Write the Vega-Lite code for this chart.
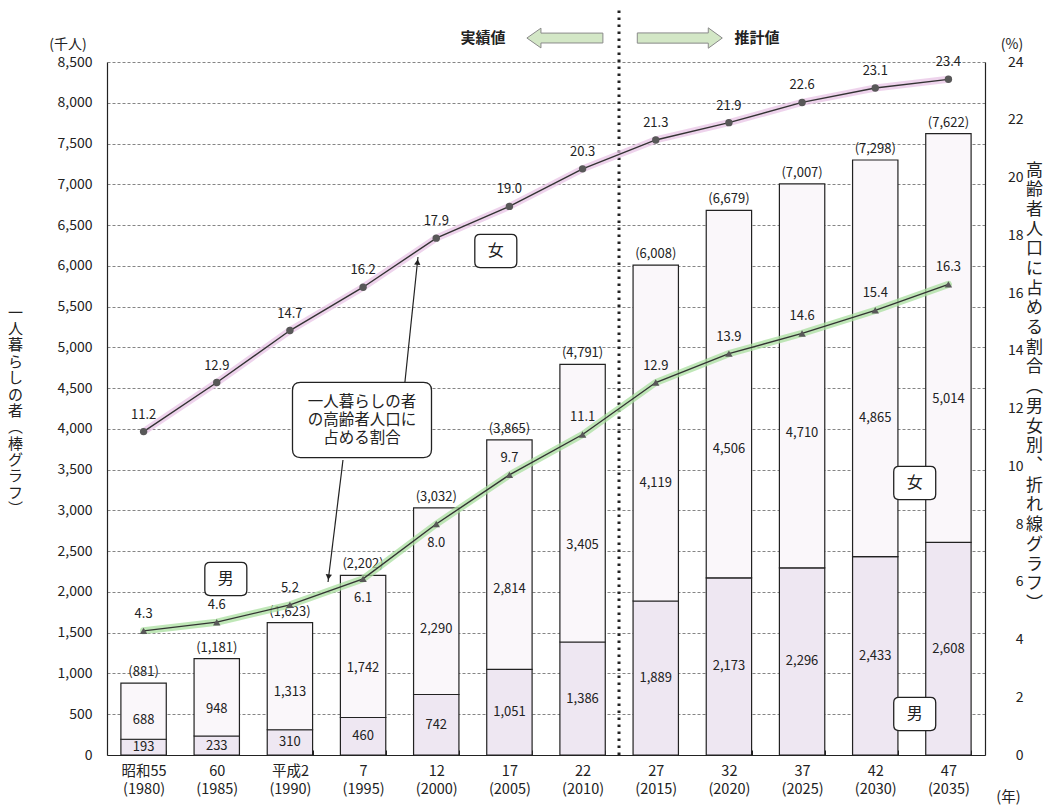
{
  "$schema": "https://vega.github.io/schema/vega-lite/v6.json",
  "width": 878,
  "height": 693,
  "autosize": {"type": "none"},
  "padding": {"left": 107, "top": 62, "right": 74, "bottom": 55},
  "background": "white",
  "config": {
    "font": "Noto Sans CJK JP",
    "view": {"stroke": null},
    "axis": {"labelFontWeight": "normal", "titleFontWeight": "normal", "labelColor": "#222", "titleColor": "#222", "domainColor": "#222", "domainWidth": 1.2}
  },
  "datasets": {
    "bars": [
      {"year": "昭和55|(1980)", "sex": "男", "value": 193}, {"year": "昭和55|(1980)", "sex": "女", "value": 688},
      {"year": "60|(1985)", "sex": "男", "value": 233}, {"year": "60|(1985)", "sex": "女", "value": 948},
      {"year": "平成2|(1990)", "sex": "男", "value": 310}, {"year": "平成2|(1990)", "sex": "女", "value": 1313},
      {"year": "7|(1995)", "sex": "男", "value": 460}, {"year": "7|(1995)", "sex": "女", "value": 1742},
      {"year": "12|(2000)", "sex": "男", "value": 742}, {"year": "12|(2000)", "sex": "女", "value": 2290},
      {"year": "17|(2005)", "sex": "男", "value": 1051}, {"year": "17|(2005)", "sex": "女", "value": 2814},
      {"year": "22|(2010)", "sex": "男", "value": 1386}, {"year": "22|(2010)", "sex": "女", "value": 3405},
      {"year": "27|(2015)", "sex": "男", "value": 1889}, {"year": "27|(2015)", "sex": "女", "value": 4119},
      {"year": "32|(2020)", "sex": "男", "value": 2173}, {"year": "32|(2020)", "sex": "女", "value": 4506},
      {"year": "37|(2025)", "sex": "男", "value": 2296}, {"year": "37|(2025)", "sex": "女", "value": 4710},
      {"year": "42|(2030)", "sex": "男", "value": 2433}, {"year": "42|(2030)", "sex": "女", "value": 4865},
      {"year": "47|(2035)", "sex": "男", "value": 2608}, {"year": "47|(2035)", "sex": "女", "value": 5014}
    ],
    "totals": [
      {"year": "昭和55|(1980)", "total": 881, "label": "(881)"},
      {"year": "60|(1985)", "total": 1181, "label": "(1,181)"},
      {"year": "平成2|(1990)", "total": 1623, "label": "(1,623)"},
      {"year": "7|(1995)", "total": 2202, "label": "(2,202)"},
      {"year": "12|(2000)", "total": 3032, "label": "(3,032)"},
      {"year": "17|(2005)", "total": 3865, "label": "(3,865)"},
      {"year": "22|(2010)", "total": 4791, "label": "(4,791)"},
      {"year": "27|(2015)", "total": 6008, "label": "(6,008)"},
      {"year": "32|(2020)", "total": 6679, "label": "(6,679)"},
      {"year": "37|(2025)", "total": 7007, "label": "(7,007)"},
      {"year": "42|(2030)", "total": 7298, "label": "(7,298)"},
      {"year": "47|(2035)", "total": 7622, "label": "(7,622)"}
    ],
    "rates": [
      {"year": "昭和55|(1980)", "sex": "女", "rate": 11.2}, {"year": "昭和55|(1980)", "sex": "男", "rate": 4.3},
      {"year": "60|(1985)", "sex": "女", "rate": 12.9}, {"year": "60|(1985)", "sex": "男", "rate": 4.6},
      {"year": "平成2|(1990)", "sex": "女", "rate": 14.7}, {"year": "平成2|(1990)", "sex": "男", "rate": 5.2},
      {"year": "7|(1995)", "sex": "女", "rate": 16.2}, {"year": "7|(1995)", "sex": "男", "rate": 6.1},
      {"year": "12|(2000)", "sex": "女", "rate": 17.9}, {"year": "12|(2000)", "sex": "男", "rate": 8.0},
      {"year": "17|(2005)", "sex": "女", "rate": 19.0}, {"year": "17|(2005)", "sex": "男", "rate": 9.7},
      {"year": "22|(2010)", "sex": "女", "rate": 20.3}, {"year": "22|(2010)", "sex": "男", "rate": 11.1},
      {"year": "27|(2015)", "sex": "女", "rate": 21.3}, {"year": "27|(2015)", "sex": "男", "rate": 12.9},
      {"year": "32|(2020)", "sex": "女", "rate": 21.9}, {"year": "32|(2020)", "sex": "男", "rate": 13.9},
      {"year": "37|(2025)", "sex": "女", "rate": 22.6}, {"year": "37|(2025)", "sex": "男", "rate": 14.6},
      {"year": "42|(2030)", "sex": "女", "rate": 23.1}, {"year": "42|(2030)", "sex": "男", "rate": 15.4},
      {"year": "47|(2035)", "sex": "女", "rate": 23.4}, {"year": "47|(2035)", "sex": "男", "rate": 16.3}
    ]
  },
  "layer": [
    {
      "layer": [
        {
          "data": {"name": "bars"},
          "mark": {"type": "bar", "stroke": "#222", "strokeWidth": 1.2},
          "encoding": {
            "x": {
              "field": "year", "type": "nominal",
              "scale": {"domain": ["昭和55|(1980)", "60|(1985)", "平成2|(1990)", "7|(1995)", "12|(2000)", "17|(2005)", "22|(2010)", "27|(2015)", "32|(2020)", "37|(2025)", "42|(2030)", "47|(2035)"], "paddingInner": 0.38, "paddingOuter": 0.19},
              "axis": {"title": "(年)", "titleX": 901, "titleY": 42, "titleAngle": 0, "titleAlign": "center", "titleBaseline": "middle", "titleFontSize": 14.5,
                "labelExpr": "split(datum.label, '|')", "labelAngle": 0, "labelBaseline": "top", "labelLineHeight": 18, "labelFontSize": 14.5, "labelPadding": 14,
                "tickBand": "extent", "ticks": true, "tickSize": -5, "tickColor": "#222", "grid": false}
            },
            "y": {
              "field": "value", "type": "quantitative", "stack": "zero",
              "scale": {"domain": [0, 8500], "nice": false},
              "axis": {"orient": "left", "values": [0, 500, 1000, 1500, 2000, 2500, 3000, 3500, 4000, 4500, 5000, 5500, 6000, 6500, 7000, 7500, 8000, 8500], "format": ",d",
                "grid": true, "gridColor": "#777", "gridDash": [3, 2], "gridWidth": 0.9, "ticks": false, "labelPadding": 15, "labelFontSize": 14,
                "title": ["一", "人", "暮", "ら", "し", "の", "者", "︵", "棒", "グ", "ラ", "フ", "︶"],
                "titleAngle": 0, "titleFontSize": 15, "titleLineHeight": 16.4, "titleX": -92, "titleY": 250, "titleAlign": "center", "titleBaseline": "middle"}
            },
            "fill": {"field": "sex", "type": "nominal", "scale": {"domain": ["男", "女"], "range": ["#eee7f2", "#faf7fa"]}, "legend": null},
            "order": {"field": "sex", "sort": "descending"}
          }
        },
        {
          "data": {"name": "bars"},
          "mark": {"type": "text", "fontSize": 13, "color": "#222", "baseline": "middle"},
          "encoding": {
            "x": {"field": "year", "type": "nominal"},
            "y": {"field": "value", "type": "quantitative", "stack": "zero", "bandPosition": 0.5},
            "detail": {"field": "sex"},
            "order": {"field": "sex", "sort": "descending"},
            "text": {"field": "value", "type": "quantitative", "format": ","},
            "opacity": {"condition": {"test": "datum.sex === '男'", "value": 1}, "value": 0}
          }
        },
        {
          "data": {"name": "bars"},
          "mark": {"type": "text", "fontSize": 13, "color": "#222", "baseline": "middle"},
          "encoding": {
            "x": {"field": "year", "type": "nominal"},
            "y": {"field": "value", "type": "quantitative", "stack": "zero", "bandPosition": 0.35},
            "detail": {"field": "sex"},
            "order": {"field": "sex", "sort": "descending"},
            "text": {"field": "value", "type": "quantitative", "format": ","},
            "opacity": {"condition": {"test": "datum.sex === '女'", "value": 1}, "value": 0}
          }
        },
        {
          "data": {"name": "totals"},
          "mark": {"type": "text", "fontSize": 13, "color": "#222", "baseline": "bottom", "dy": -4},
          "encoding": {
            "x": {"field": "year", "type": "nominal"},
            "y": {"field": "total", "type": "quantitative"},
            "text": {"field": "label"}
          }
        },
        {
          "data": {"values": [{}]},
          "mark": {"type": "rule", "color": "#222", "strokeWidth": 3, "strokeDash": [2.5, 4.5]},
          "encoding": {
            "x": {"datum": "27|(2015)", "bandPosition": -0.31},
            "y": {"datum": 0},
            "y2": {"datum": 9150}
          }
        },
        {
          "data": {"values": [{}]},
          "mark": {"type": "text", "fontSize": 15, "fontWeight": "bold", "color": "#222", "baseline": "middle"},
          "encoding": {"x": {"datum": "12|(2000)", "bandPosition": 1.53}, "y": {"datum": 8794}, "text": {"value": "実績値"}}
        },
        {
          "data": {"values": [{}]},
          "mark": {"type": "text", "fontSize": 15, "fontWeight": "bold", "color": "#222", "baseline": "middle"},
          "encoding": {"x": {"datum": "32|(2020)", "bandPosition": 1.12}, "y": {"datum": 8794}, "text": {"value": "推計値"}}
        },
        {
          "data": {"values": [{}]},
          "mark": {"type": "point", "filled": true, "fill": "#d3e7c6", "stroke": "#8a8a8a", "strokeWidth": 1, "opacity": 1, "size": 5776,
            "shape": "M-1,0L-0.63,-0.26L-0.63,-0.13L1,-0.13L1,0.13L-0.63,0.13L-0.63,0.26Z"},
          "encoding": {"x": {"datum": "22|(2010)", "bandPosition": 0.11}, "y": {"datum": 8794}}
        },
        {
          "data": {"values": [{}]},
          "mark": {"type": "point", "filled": true, "fill": "#d3e7c6", "stroke": "#8a8a8a", "strokeWidth": 1, "opacity": 1, "size": 7225,
            "shape": "M1,0L0.67,-0.24L0.67,-0.12L-1,-0.12L-1,0.12L0.67,0.12L0.67,0.24Z"},
          "encoding": {"x": {"datum": "27|(2015)", "bandPosition": 1.03}, "y": {"datum": 8794}}
        },
        {
          "data": {"values": [{}]},
          "mark": {"type": "text", "fontSize": 14, "color": "#222", "baseline": "middle"},
          "encoding": {"x": {"datum": "昭和55|(1980)", "bandPosition": -1.165}, "y": {"datum": 8708}, "text": {"value": "(千人)"}}
        },
        {
          "data": {"values": [{}]},
          "mark": {"type": "text", "fontSize": 14, "color": "#222", "baseline": "middle"},
          "encoding": {"x": {"datum": "47|(2035)", "bandPosition": 1.9}, "y": {"datum": 8708}, "text": {"value": "(%)"}}
        },
        {
          "data": {"values": [{}]},
          "mark": {"type": "rule", "color": "#222", "strokeWidth": 1.2},
          "encoding": {"x": {"datum": "7|(1995)", "bandPosition": 1.42}, "y": {"datum": 4563}, "x2": {"datum": "7|(1995)", "bandPosition": 1.71}, "y2": {"datum": 6108}}
        },
        {
          "data": {"values": [{}]},
          "mark": {"type": "point", "filled": true, "color": "#222", "opacity": 1, "size": 40, "shape": "triangle-up", "angle": 6},
          "encoding": {"x": {"datum": "7|(1995)", "bandPosition": 1.7}, "y": {"datum": 6047}}
        },
        {
          "data": {"values": [{}]},
          "mark": {"type": "rule", "color": "#222", "strokeWidth": 1.2},
          "encoding": {"x": {"datum": "7|(1995)", "bandPosition": 0.057}, "y": {"datum": 3618}, "x2": {"datum": "7|(1995)", "bandPosition": -0.273}, "y2": {"datum": 2122}}
        },
        {
          "data": {"values": [{}]},
          "mark": {"type": "point", "filled": true, "color": "#222", "opacity": 1, "size": 40, "shape": "triangle-down", "angle": 7},
          "encoding": {"x": {"datum": "7|(1995)", "bandPosition": -0.262}, "y": {"datum": 2183}}
        },
        {
          "data": {"values": [{}]},
          "mark": {"type": "point", "filled": true, "fill": "white", "stroke": "#222", "strokeWidth": 1.3, "opacity": 1, "size": 19321,
            "shape": "M-0.885,-0.54L0.885,-0.54Q1,-0.54 1,-0.425L1,0.425Q1,0.54 0.885,0.54L-0.885,0.54Q-1,0.54 -1,0.425L-1,-0.425Q-1,-0.54 -0.885,-0.54Z"},
          "encoding": {"x": {"datum": "7|(1995)", "bandPosition": 0.476}, "y": {"datum": 4109}}
        },
        {
          "data": {"values": [{}]},
          "mark": {"type": "text", "fontSize": 15.5, "color": "#222", "baseline": "middle", "lineHeight": 18, "dy": -18},
          "encoding": {"x": {"datum": "7|(1995)", "bandPosition": 0.476}, "y": {"datum": 4109}, "text": {"value": ["一人暮らしの者", "の高齢者人口に", "占める割合"]}}
        },
        {
          "data": {"values": [{}]},
          "mark": {"type": "point", "filled": true, "fill": "white", "stroke": "#222", "strokeWidth": 1.3, "opacity": 1, "size": 1764,
            "shape": "M-0.75,-0.79L0.75,-0.79Q1,-0.79 1,-0.54L1,0.54Q1,0.79 0.75,0.79L-0.75,0.79Q-1,0.79 -1,0.54L-1,-0.54Q-1,-0.79 -0.75,-0.79Z"},
          "encoding": {"x": {"datum": "17|(2005)", "bandPosition": 0.2}, "y": {"datum": 6182}}
        },
        {
          "data": {"values": [{}]},
          "mark": {"type": "text", "fontSize": 16, "color": "#222", "baseline": "middle"},
          "encoding": {"x": {"datum": "17|(2005)", "bandPosition": 0.2}, "y": {"datum": 6182}, "text": {"value": "女"}}
        },
        {
          "data": {"values": [{}]},
          "mark": {"type": "point", "filled": true, "fill": "white", "stroke": "#222", "strokeWidth": 1.3, "opacity": 1, "size": 1764,
            "shape": "M-0.75,-0.79L0.75,-0.79Q1,-0.79 1,-0.54L1,0.54Q1,0.79 0.75,0.79L-0.75,0.79Q-1,0.79 -1,0.54L-1,-0.54Q-1,-0.79 -0.75,-0.79Z"},
          "encoding": {"x": {"datum": "42|(2030)", "bandPosition": 1.37}, "y": {"datum": 3336}}
        },
        {
          "data": {"values": [{}]},
          "mark": {"type": "text", "fontSize": 16, "color": "#222", "baseline": "middle"},
          "encoding": {"x": {"datum": "42|(2030)", "bandPosition": 1.37}, "y": {"datum": 3336}, "text": {"value": "女"}}
        },
        {
          "data": {"values": [{}]},
          "mark": {"type": "point", "filled": true, "fill": "white", "stroke": "#222", "strokeWidth": 1.3, "opacity": 1, "size": 1764,
            "shape": "M-0.75,-0.79L0.75,-0.79Q1,-0.79 1,-0.54L1,0.54Q1,0.79 0.75,0.79L-0.75,0.79Q-1,0.79 -1,0.54L-1,-0.54Q-1,-0.79 -0.75,-0.79Z"},
          "encoding": {"x": {"datum": "42|(2030)", "bandPosition": 1.37}, "y": {"datum": 503}}
        },
        {
          "data": {"values": [{}]},
          "mark": {"type": "text", "fontSize": 16, "color": "#222", "baseline": "middle"},
          "encoding": {"x": {"datum": "42|(2030)", "bandPosition": 1.37}, "y": {"datum": 503}, "text": {"value": "男"}}
        },
        {
          "data": {"values": [{}]},
          "mark": {"type": "point", "filled": true, "fill": "white", "stroke": "#222", "strokeWidth": 1.3, "opacity": 1, "size": 1764,
            "shape": "M-0.75,-0.79L0.75,-0.79Q1,-0.79 1,-0.54L1,0.54Q1,0.79 0.75,0.79L-0.75,0.79Q-1,0.79 -1,0.54L-1,-0.54Q-1,-0.79 -0.75,-0.79Z"},
          "encoding": {"x": {"datum": "60|(1985)", "bandPosition": 0.7}, "y": {"datum": 2159}}
        },
        {
          "data": {"values": [{}]},
          "mark": {"type": "text", "fontSize": 16, "color": "#222", "baseline": "middle"},
          "encoding": {"x": {"datum": "60|(1985)", "bandPosition": 0.7}, "y": {"datum": 2159}, "text": {"value": "男"}}
        }
      ]
    },
    {
      "data": {"name": "rates"},
      "layer": [
        {
          "mark": {"type": "line", "strokeWidth": 7, "opacity": 0.75, "strokeCap": "round"},
          "encoding": {
            "x": {"field": "year", "type": "nominal"},
            "y": {"field": "rate", "type": "quantitative", "scale": {"domain": [0, 24], "nice": false},
              "axis": {"orient": "right", "values": [0, 2, 4, 6, 8, 10, 12, 14, 16, 18, 20, 22, 24], "grid": false, "ticks": false, "labelAlign": "right", "labelPadding": 38, "labelFontSize": 14,
                "title": ["高", "齢", "者", "人", "口", "に", "占", "め", "る", "割", "合", "︵", "男", "女", "別", "︑", "折", "れ", "線", "グ", "ラ", "フ", "︶"],
                "titleAngle": 0, "titleFontSize": 17, "titleLineHeight": 19.7, "titleX": 49, "titleY": 108, "titleAlign": "center", "titleBaseline": "middle"}},
            "stroke": {"field": "sex", "type": "nominal", "scale": {"domain": ["女", "男"], "range": ["#e8c4e5", "#a9df9f"]}, "legend": null}
          }
        },
        {
          "mark": {"type": "line", "strokeWidth": 1.4, "color": "#333"},
          "encoding": {
            "x": {"field": "year", "type": "nominal"},
            "y": {"field": "rate", "type": "quantitative"},
            "detail": {"field": "sex"}
          }
        },
        {
          "mark": {"type": "point", "filled": true, "color": "#585858", "opacity": 1, "size": 55},
          "encoding": {
            "x": {"field": "year", "type": "nominal"},
            "y": {"field": "rate", "type": "quantitative"},
            "shape": {"field": "sex", "type": "nominal", "scale": {"domain": ["女", "男"], "range": ["circle", "triangle-up"]}, "legend": null}
          }
        },
        {
          "mark": {"type": "text", "fontSize": 13, "color": "#222", "baseline": "middle", "dy": -17},
          "encoding": {
            "x": {"field": "year", "type": "nominal"},
            "y": {"field": "rate", "type": "quantitative"},
            "text": {"field": "rate", "type": "quantitative", "format": ".1f"},
            "opacity": {"condition": {"test": "datum.sex === '男' && (datum.year === '7|(1995)' || datum.year === '12|(2000)')", "value": 0}, "value": 1}
          }
        },
        {
          "mark": {"type": "text", "fontSize": 13, "color": "#222", "baseline": "middle", "dy": 19},
          "encoding": {
            "x": {"field": "year", "type": "nominal"},
            "y": {"field": "rate", "type": "quantitative"},
            "text": {"field": "rate", "type": "quantitative", "format": ".1f"},
            "opacity": {"condition": {"test": "datum.sex === '男' && (datum.year === '7|(1995)' || datum.year === '12|(2000)')", "value": 1}, "value": 0}
          }
        }
      ]
    }
  ],
  "resolve": {"scale": {"y": "independent"}}
}
